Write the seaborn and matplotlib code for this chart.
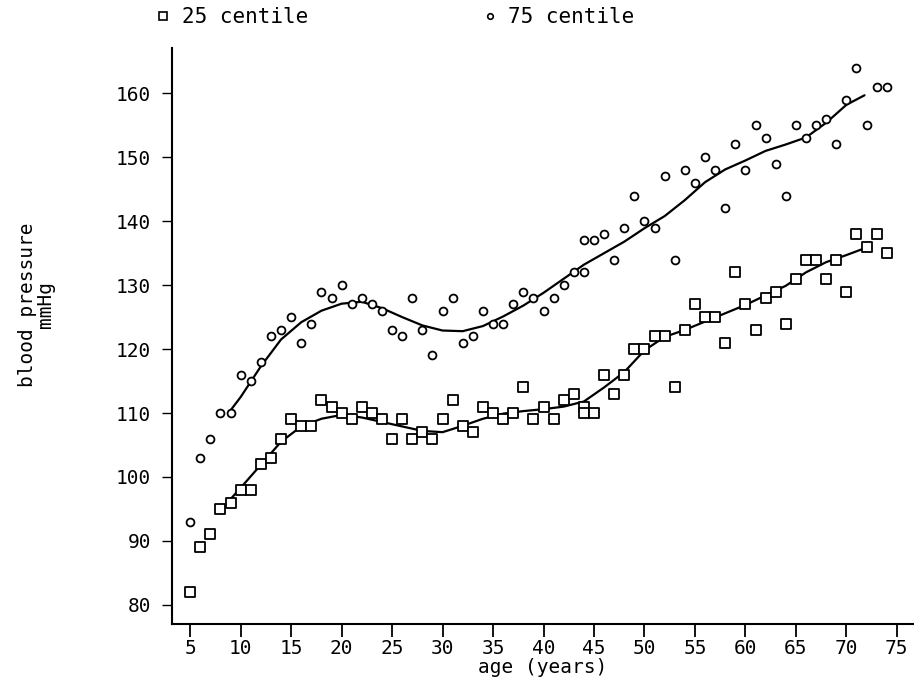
import numpy as np
import pandas as pd
import matplotlib
matplotlib.use("Agg")
import matplotlib.pyplot as plt
from matplotlib.lines import Line2D
import seaborn as sns

# Observed centiles of blood pressure by age (one value per year of age)
ages_p25 = [5, 6, 7, 8, 9, 10, 11, 12, 13, 14, 15, 16, 17, 18, 19, 20, 21, 22, 23, 24,
            25, 26, 27, 28, 29, 30, 31, 32, 33, 34, 35, 36, 37, 38, 39, 40, 41, 42, 43, 44,
            44, 45, 46, 47, 48, 49, 50, 51, 52, 53, 54, 55, 56, 57, 58, 59, 60, 61, 62, 63,
            64, 65, 66, 67, 68, 69, 70, 71, 72, 73, 74]
bp_p25 = [82, 89, 91, 95, 96, 98, 98, 102, 103, 106, 109, 108, 108, 112, 111, 110, 109, 111, 110, 109,
          106, 109, 106, 107, 106, 109, 112, 108, 107, 111, 110, 109, 110, 114, 109, 111, 109, 112, 113, 111,
          110, 110, 116, 113, 116, 120, 120, 122, 122, 114, 123, 127, 125, 125, 121, 132, 127, 123, 128, 129,
          124, 131, 134, 134, 131, 134, 129, 138, 136, 138, 135]

ages_p75 = [5, 6, 7, 8, 9, 10, 11, 12, 13, 14, 15, 16, 17, 18, 19, 20, 21, 22, 23, 24,
            25, 26, 27, 28, 29, 30, 31, 32, 33, 34, 35, 36, 37, 38, 39, 40, 41, 42, 43, 44,
            44, 45, 46, 47, 48, 49, 50, 51, 52, 53, 54, 55, 56, 57, 58, 59, 60, 61, 62, 63,
            64, 65, 66, 67, 68, 69, 70, 71, 72, 73, 74]
bp_p75 = [93, 103, 106, 110, 110, 116, 115, 118, 122, 123, 125, 121, 124, 129, 128, 130, 127, 128, 127, 126,
          123, 122, 128, 123, 119, 126, 128, 121, 122, 126, 124, 124, 127, 129, 128, 126, 128, 130, 132, 132,
          137, 137, 138, 134, 139, 144, 140, 139, 147, 134, 148, 146, 150, 148, 142, 152, 148, 155, 153, 149,
          144, 155, 153, 155, 156, 152, 159, 164, 155, 161, 161]

# Smoothed centile curves
curve_age_p25 = [8.7, 10, 12, 14, 16, 18, 20, 22, 24, 26, 28, 30, 32, 34, 36, 38, 40, 42, 44, 46,
                 48, 50, 52, 54, 56, 58, 60, 62, 64, 66, 68, 70, 72.2]
curve_bp_p25 = [96.0, 98.3, 101.9, 105.5, 107.9, 109.1, 109.7, 109.3, 108.6, 107.9, 107.2, 107.0,
                108.0, 109.1, 109.9, 110.3, 110.6, 111.0, 111.8, 114.0, 116.4, 119.8, 121.9, 123.0,
                124.3, 125.6, 126.9, 128.4, 129.9, 132.0, 133.6, 134.7, 136.0]

curve_age_p75 = [8.8, 10, 12, 14, 16, 18, 20, 22, 24, 26, 28, 30, 32, 34, 36, 38, 40, 42, 44, 46,
                 48, 50, 52, 54, 56, 58, 60, 62, 64, 66, 68, 70, 71.8]
curve_bp_p75 = [110.0, 112.5, 117.3, 121.5, 124.2, 126.0, 127.1, 127.4, 126.4, 125.0, 123.7, 122.9,
                122.8, 123.6, 125.1, 126.8, 128.8, 131.0, 133.2, 135.0, 136.8, 138.9, 140.8, 143.3,
                146.1, 148.1, 149.5, 151.0, 152.0, 153.1, 155.4, 158.2, 159.7]

x_ticks = [5, 10, 15, 20, 25, 30, 35, 40, 45, 50, 55, 60, 65, 70, 75]
y_ticks = [80, 90, 100, 110, 120, 130, 140, 150, 160]

sns.set_theme(style="ticks")
plt.rcParams["font.family"] = ["DejaVu Sans Mono", "DejaVu Sans"]
plt.rcParams["text.color"] = "black"
plt.rcParams["axes.labelcolor"] = "black"
plt.rcParams["xtick.color"] = "black"
plt.rcParams["ytick.color"] = "black"

fig = plt.figure(figsize=(9.14, 6.86), dpi=100)
ax = fig.add_axes([0.1882, 0.0904, 0.8118, 0.8397])

df25 = pd.DataFrame({"age": ages_p25, "bp": bp_p25})
df75 = pd.DataFrame({"age": ages_p75, "bp": bp_p75})
c25 = pd.DataFrame({"age": curve_age_p25, "bp": curve_bp_p25})
c75 = pd.DataFrame({"age": curve_age_p75, "bp": curve_bp_p75})

sns.lineplot(data=c25, x="age", y="bp", ax=ax, color="black", lw=1.6, sort=False)
sns.lineplot(data=c75, x="age", y="bp", ax=ax, color="black", lw=1.6, sort=False)
sns.scatterplot(data=df25, x="age", y="bp", ax=ax, marker="s", s=60,
                facecolor="white", edgecolor="black", linewidth=1.3, zorder=3)
sns.scatterplot(data=df75, x="age", y="bp", ax=ax, marker="o", s=32,
                facecolor="white", edgecolor="black", linewidth=1.3, zorder=3)

ax.set_xlim(3.2, 76.7)
ax.set_ylim(77.0, 167.1)
ax.set_xticks(x_ticks)
ax.set_yticks(y_ticks)
ax.set_xticklabels([str(t) for t in x_ticks])
ax.set_yticklabels([str(t) for t in y_ticks])
ax.tick_params(axis="x", length=9, width=1.3, pad=2, labelsize=14, colors="black")
ax.tick_params(axis="y", length=7, width=1.0, pad=8, labelsize=14, colors="black")
for side in ("top", "right"):
    ax.spines[side].set_visible(False)
for side in ("left", "bottom"):
    ax.spines[side].set_linewidth(1.5)
    ax.spines[side].set_color("black")

ax.set_xlabel("age (years)", fontsize=14, labelpad=0, color="black")
ax.set_ylabel("")
fig.text(0.040, 1 - 305 / 686, "blood pressure\nmmHg", rotation=90, fontsize=14,
         ha="center", va="center", multialignment="center", linespacing=0.9,
         color="black")

handles = [
    Line2D([], [], marker="s", ls="none", markersize=6, markerfacecolor="white",
           markeredgecolor="black", markeredgewidth=1.2),
    Line2D([], [], marker="o", ls="none", markersize=4, markerfacecolor="white",
           markeredgecolor="black", markeredgewidth=1.2),
]
leg = fig.legend(handles, ["25 centile", "75 centile"], ncol=2, frameon=False,
                 loc="center left", bbox_to_anchor=(155 / 914, 1 - 17 / 686),
                 fontsize=15, handlelength=0.8, handletextpad=0.5, columnspacing=8.3,
                 borderaxespad=0, borderpad=0)
for t in leg.get_texts():
    t.set_color("black")

fig.savefig("out.png", dpi=100, facecolor="white")
